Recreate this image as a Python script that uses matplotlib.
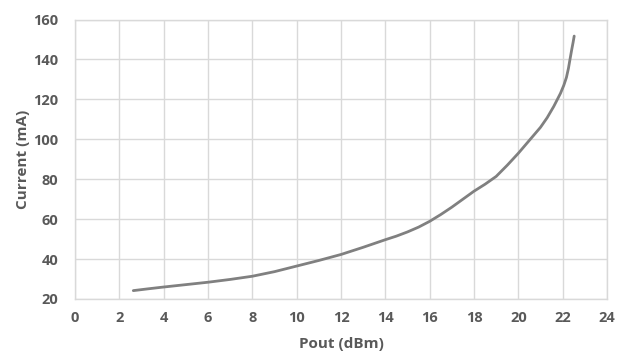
import matplotlib
matplotlib.use("Agg")
import matplotlib.pyplot as plt
import numpy as np

pout = [2.63, 3.3, 4.0, 5.0, 6.0, 7.0, 8.0, 9.0, 10.0, 11.0, 12.0, 13.0, 14.0, 14.5, 15.0, 15.5, 16.0, 16.5, 17.0, 17.5, 18.0, 18.5,
        19.0, 19.5, 20.0, 20.5, 21.0, 21.3, 21.6, 21.9, 22.05, 22.17, 22.26, 22.33, 22.41, 22.47, 22.52]
current = [24.2, 25.1, 26.0, 27.2, 28.4, 29.8, 31.4, 33.7, 36.5, 39.3, 42.3, 45.9, 49.7, 51.5, 53.6, 56.0, 58.9, 62.3, 66.0, 70.0, 74.0, 77.5,
           81.4, 87.0, 93.0, 99.5, 106.0, 110.8, 116.5, 123.0, 127.0, 131.0, 135.5, 140.0, 145.0, 148.5, 151.7]
xticks = list(range(0, 25, 2))
yticks = list(range(20, 161, 20))

plt.rcParams['font.family'] = ['Open Sans', 'DejaVu Sans']
fig = plt.figure(figsize=(6.26, 3.56), dpi=100)
ax = fig.add_axes([75/626, 1-299/356, (607-75)/626, (299-19.5)/356])
ax.plot(pout, current, color='#808080', lw=2.0, solid_capstyle='round', solid_joinstyle='round')
ax.set_xlim(0, 24)
ax.set_ylim(20, 160)
ax.set_xticks(xticks)
ax.set_yticks(yticks)
ax.grid(True, color='#d9d9d9', lw=1.0)
ax.set_axisbelow(True)
for s in ax.spines.values():
    s.set_color('#d9d9d9')
    s.set_linewidth(1.0)
ax.tick_params(length=0, colors='#595959', labelsize=10.5)
ax.tick_params(axis='x', pad=9)
ax.tick_params(axis='y', pad=12)
for lab in ax.get_xticklabels() + ax.get_yticklabels():
    lab.set_fontweight('bold')
ax.set_xlabel('Pout (dBm)', fontsize=11, fontweight='bold', color='#595959', labelpad=8)
ax.set_ylabel('Current (mA)', fontsize=11, fontweight='bold', color='#595959', labelpad=2)
fig.savefig('out.png', dpi=100)
